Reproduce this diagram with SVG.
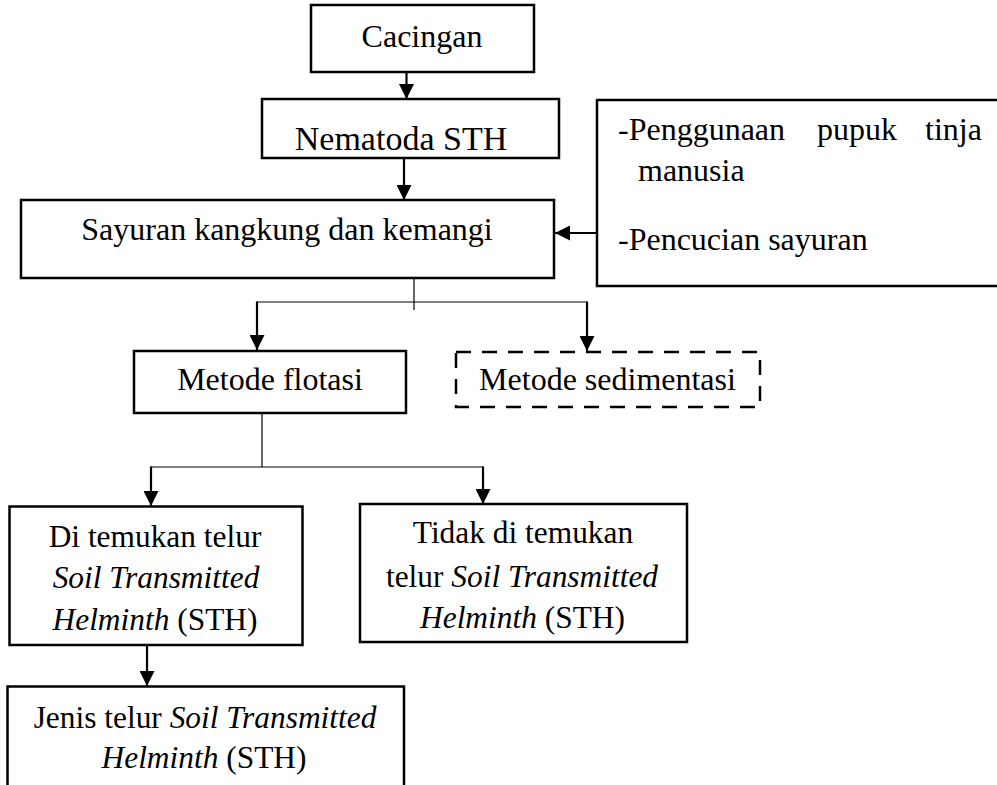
<svg xmlns="http://www.w3.org/2000/svg" width="997" height="785" viewBox="0 0 997 785">
<style>
  .box{fill:#fff;stroke:#000;stroke-width:2.5}
  .dash{fill:#fff;stroke:#000;stroke-width:2.5;stroke-dasharray:15 11}
  .t{font-family:"Liberation Serif","Times New Roman",serif;font-size:32px;fill:#000}
  .s{font-size:31.4px}
  .c{text-anchor:middle}
  .thin{stroke:#000;stroke-width:1.2;fill:none}
  .arr{stroke:#000;stroke-width:2.2;fill:none;marker-end:url(#ah)}
</style>
<defs>
  <marker id="ah" viewBox="0 0 15 15" refX="15" refY="7.5" markerWidth="15" markerHeight="15" markerUnits="userSpaceOnUse" orient="auto">
    <path d="M0,0 L15,7.5 L0,15 z" fill="#000"/>
  </marker>
</defs>
<rect width="997" height="785" fill="#fff"/>
<g id="connectors">
  <line class="arr" x1="406.5" y1="72" x2="406.5" y2="99"/>
  <line class="arr" x1="404" y1="158" x2="404" y2="200"/>
  <line class="arr" x1="597" y1="233" x2="555" y2="233"/>
  <line class="thin" x1="414" y1="278" x2="414" y2="310"/>
  <line class="thin" x1="257" y1="302" x2="587" y2="302"/>
  <line class="arr" x1="257" y1="301.5" x2="257" y2="350"/>
  <line class="arr" x1="587" y1="301.5" x2="587" y2="351"/>
  <line class="thin" x1="262" y1="413" x2="262" y2="467"/>
  <line class="thin" x1="151" y1="467" x2="483" y2="467"/>
  <line class="arr" x1="151" y1="466.5" x2="151" y2="506"/>
  <line class="arr" x1="483" y1="466.5" x2="483" y2="504"/>
  <line class="arr" x1="147" y1="645" x2="147" y2="686"/>
</g>
<g id="cacingan">
  <rect class="box" x="311" y="5" width="223" height="67"/>
  <text class="t c" x="422" y="47">Cacingan</text>
</g>
<g id="nematoda">
  <rect class="box" x="262" y="99" width="297" height="59"/>
  <text class="t c" x="401" y="150" style="font-size:34px">Nematoda STH</text>
</g>
<g id="sayuran">
  <rect class="box" x="21" y="200" width="533" height="78"/>
  <text class="t c" x="287" y="240">Sayuran kangkung dan kemangi</text>
</g>
<g id="faktor">
  <rect class="box" x="597" y="100" width="410" height="186"/>
  <text class="t" y="140"><tspan x="618">-Penggunaan</tspan><tspan x="817">pupuk</tspan><tspan x="925">tinja</tspan></text>
  <text class="t" x="638" y="181">manusia</text>
  <text class="t" x="618" y="250">-Pencucian sayuran</text>
</g>
<g id="flotasi">
  <rect class="box" x="134" y="351" width="272" height="62"/>
  <text class="t c" x="270" y="390">Metode flotasi</text>
</g>
<g id="sedimentasi">
  <rect class="dash" x="456" y="352" width="304" height="55"/>
  <text class="t c" x="607.5" y="390">Metode sedimentasi</text>
</g>
<g id="ditemukan">
  <rect class="box" x="9.5" y="506.5" width="293" height="138.5"/>
  <text class="t s c" x="155" y="547">Di temukan telur</text>
  <text class="t s c" x="156" y="588" font-style="italic">Soil Transmitted</text>
  <text class="t s c" x="155" y="630"><tspan font-style="italic">Helminth</tspan> (STH)</text>
</g>
<g id="tidak">
  <rect class="box" x="360" y="504" width="327" height="138"/>
  <text class="t s c" x="523" y="543">Tidak di temukan</text>
  <text class="t s c" x="522" y="587">telur <tspan font-style="italic">Soil Transmitted</tspan></text>
  <text class="t s c" x="522.5" y="628"><tspan font-style="italic">Helminth</tspan> (STH)</text>
</g>
<g id="jenis">
  <rect class="box" x="7.5" y="686.5" width="396.5" height="130"/>
  <text class="t s c" x="205" y="728">Jenis telur <tspan font-style="italic">Soil Transmitted</tspan></text>
  <text class="t s c" x="204" y="768"><tspan font-style="italic">Helminth</tspan> (STH)</text>
</g>
</svg>
